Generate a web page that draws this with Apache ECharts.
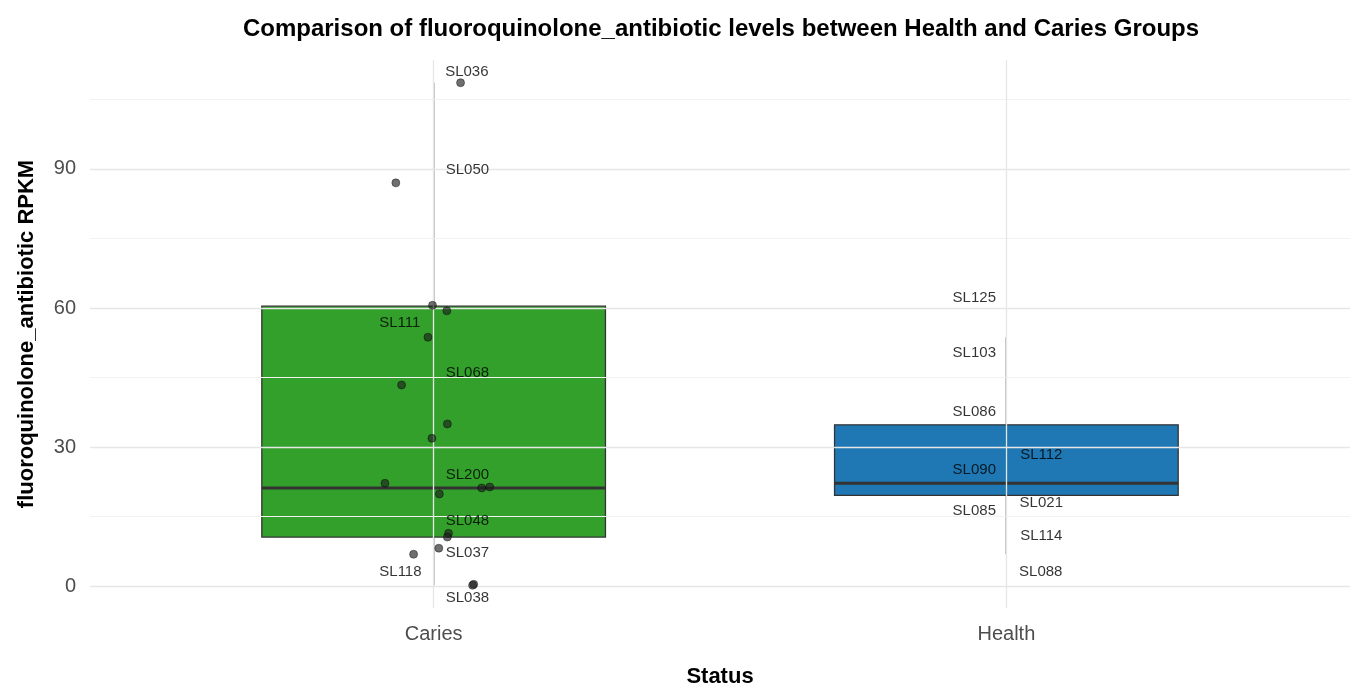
<!DOCTYPE html>
<html><head><meta charset="utf-8">
<script src="https://cdn.jsdelivr.net/npm/echarts@6/dist/echarts.min.js"></script>
<style>html,body{margin:0;padding:0;background:#fff}#c{width:1366px;height:697px}</style>
</head><body><div id="c"></div>
<script>
const categories = ['Caries', 'Health'];
// box stats per category: [lowerWhisker, Q1, median, Q3, upperWhisker]
const boxStats = [[0.2, 10.6, 21.2, 60.4, 108.6], [6.9, 19.6, 22.2, 34.8, 53.7]];
const boxColors = ['#33a02c', '#1f78b4'];
const sampleIds = ['SL036','SL050','SL111','SL068','SL200','SL048','SL037','SL118','SL038',
                   'SL125','SL103','SL086','SL112','SL090','SL021','SL085','SL114','SL088'];
const sampleGroup = [0,0,0,0,0,0,0,0,0, 1,1,1,1,1,1,1,1,1];
const sampleValue = [108.6,87.0,60.6,43.4,21.2,11.4,10.6,0.4,0.2, 59.4,53.7,35.0,31.9,22.2,21.4,19.9,8.2,6.9];
const jitterX = [1.047,0.934,0.998,0.944,1.084,1.026,1.024,1.070,1.068, 1.023,0.990,1.024,0.997,0.915,1.098,1.010,1.009,0.965];
const labelX = [1.058,1.059,0.941,1.059,1.059,1.059,1.059,0.942,1.059, 1.944,1.944,1.944,2.061,1.944,2.061,1.944,2.061,2.060];
const labelY = [110.9,89.8,56.8,46.0,24.0,14.2,7.1,3.2,-2.6, 62.2,50.3,37.6,28.3,25.0,17.9,16.2,10.8,3.2];
const yTicks = [0, 30, 60, 90];
const yMinor = [15, 45, 75, 105];

const chart = echarts.init(document.getElementById('c'));
const boxData = boxStats.map((s, i) => [i + 1].concat(s));
chart.setOption({
  animation: false,
  title: {text: 'Comparison of fluoroquinolone_antibiotic levels between Health and Caries Groups',
    left: 716, top: 12, textAlign: 'center',
    textStyle: {fontFamily: 'Liberation Sans', fontWeight: 'bold', fontSize: 24, color: '#000'}},
  grid: {left: 90, right: 16, top: 60, bottom: 89},
  xAxis: {type: 'value', min: 0.4, max: 2.6, name: 'Status', nameLocation: 'middle', nameGap: 58,
    nameTextStyle: {fontFamily: 'Liberation Sans', fontWeight: 'bold', fontSize: 22, color: '#000'},
    axisLine: {show: false}, axisTick: {show: false}, splitLine: {show: false},
    axisLabel: {customValues: [1, 2], formatter: v => categories[Math.round(v) - 1] || '',
      fontFamily: 'Liberation Sans', fontSize: 20, color: '#4d4d4d', margin: 16}},
  yAxis: {type: 'value', min: -4.7, max: 113.5, name: 'fluoroquinolone_antibiotic RPKM',
    nameLocation: 'middle', nameGap: 52,
    nameTextStyle: {fontFamily: 'Liberation Sans', fontWeight: 'bold', fontSize: 22, color: '#000'},
    axisLine: {show: false}, axisTick: {show: false}, splitLine: {show: false},
    axisLabel: {customValues: yTicks, fontFamily: 'Liberation Sans', fontSize: 20, color: '#4d4d4d', margin: 14}},
  series: [
    {type: 'line', data: [], silent: true,
     markLine: {symbol: 'none', silent: true, label: {show: false}, animation: false,
       data: yMinor.map(v => ({yAxis: v, lineStyle: {color: '#f2f2f2', width: 1, type: 'solid'}}))
         .concat(yTicks.map(v => ({yAxis: v, lineStyle: {color: '#e6e6e6', width: 1.3, type: 'solid'}})))
         .concat([1, 2].map(v => ({xAxis: v, lineStyle: {color: '#e6e6e6', width: 1.3, type: 'solid'}})))}},
    {type: 'custom', data: boxData, z: 3,
     renderItem: (params, api) => {
       const x = api.value(0), i = params.dataIndex;
       const lo = api.coord([x, api.value(1)]), q1 = api.coord([x - 0.3, api.value(2)]);
       const md = api.value(3), q3 = api.coord([x + 0.3, api.value(4)]), hi = api.coord([x, api.value(5)]);
       const m1 = api.coord([x - 0.3, md]), m2 = api.coord([x + 0.3, md]);
       const stroke = {stroke: '#333', lineWidth: 1.3};
       return {type: 'group', children: [
         {type: 'line', shape: {x1: lo[0], y1: lo[1], x2: lo[0], y2: q1[1]}, style: stroke},
         {type: 'line', shape: {x1: hi[0], y1: hi[1], x2: hi[0], y2: q3[1]}, style: stroke},
         {type: 'rect', shape: {x: q1[0], y: q3[1], width: q3[0] - q1[0], height: q1[1] - q3[1]},
          style: {fill: boxColors[i], stroke: '#333', lineWidth: 1.3}},
         {type: 'line', shape: {x1: m1[0], y1: m1[1], x2: m2[0], y2: m2[1]}, style: {stroke: '#333', lineWidth: 3}}
       ]};
     }},
    {type: 'scatter', z: 5, symbolSize: 8,
     itemStyle: {color: 'rgba(30,30,30,0.8)', borderColor: '#000', borderWidth: 0.5},
     data: sampleValue.map((v, i) => [jitterX[i], v])},
    {type: 'scatter', z: 6, symbolSize: 0,
     label: {show: true, position: 'inside', formatter: p => sampleIds[p.dataIndex],
       fontFamily: 'Liberation Sans', fontSize: 15, color: '#000'},
     data: labelY.map((v, i) => [labelX[i], v])}
  ]
});
</script></body></html>
